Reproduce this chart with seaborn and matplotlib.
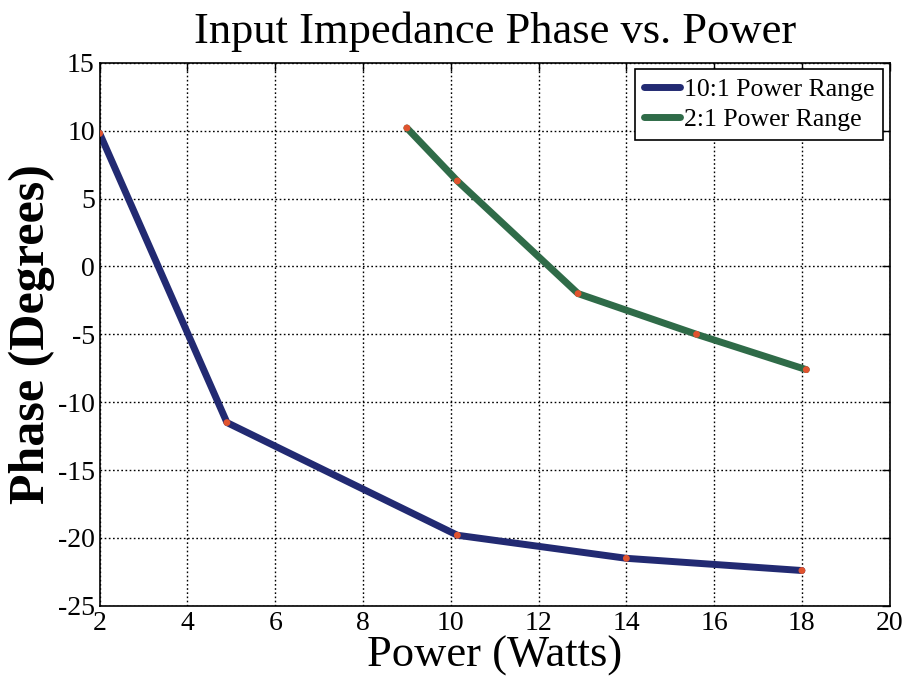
import matplotlib
matplotlib.use("Agg")
import matplotlib.pyplot as plt
import seaborn as sns
import pandas as pd
from matplotlib.lines import Line2D

# Data
power_10to1 = [2.0, 4.9, 10.15, 14.0, 18.0]
phase_10to1 = [9.8, -11.5, -19.8, -21.5, -22.4]
power_2to1 = [9.0, 10.15, 12.9, 15.6, 18.1]
phase_2to1 = [10.2, 6.3, -2.0, -5.0, -7.6]
series_names = ["10:1 Power Range", "2:1 Power Range"]
x_ticks = [2, 4, 6, 8, 10, 12, 14, 16, 18, 20]
y_ticks = [-25, -20, -15, -10, -5, 0, 5, 10, 15]

df = pd.DataFrame({
    "Power": power_10to1 + power_2to1,
    "Phase": phase_10to1 + phase_2to1,
    "Series": [series_names[0]] * len(power_10to1) + [series_names[1]] * len(power_2to1),
})

sns.set_style("white")
plt.rcParams["font.family"] = ["Liberation Serif", "DejaVu Serif"]
plt.rcParams["axes.unicode_minus"] = False
plt.rcParams["text.color"] = "black"
plt.rcParams["axes.labelcolor"] = "black"
plt.rcParams["xtick.color"] = "black"
plt.rcParams["ytick.color"] = "black"

colors = {series_names[0]: "#222a72", series_names[1]: "#2f6b48"}

fig = plt.figure(figsize=(9.06, 6.83), dpi=100)
ax = fig.add_axes([0.110, 0.113, 0.872, 0.795])

sns.lineplot(data=df, x="Power", y="Phase", hue="Series", palette=colors,
             linewidth=5, sort=False, ax=ax, legend=False)
sns.scatterplot(data=df, x="Power", y="Phase", color="#e0532e", s=24,
                edgecolor="none", ax=ax, legend=False, zorder=5)

ax.set_xlim(2, 20)
ax.set_ylim(-25, 15)
ax.set_xticks(x_ticks)
ax.set_yticks(y_ticks)
ax.tick_params(direction="in", labelsize=20, length=6, top=True, right=True,
               color="black", width=1)
ax.grid(True, linestyle=(0, (1.2, 1.8)), color="black", linewidth=1)
for sp in ax.spines.values():
    sp.set_visible(True)
    sp.set_color("black")
    sp.set_linewidth(1.2)

ax.set_title("Input Impedance Phase vs. Power", fontsize=32, pad=14, color="black")
ax.set_xlabel("Power (Watts)", fontsize=32, labelpad=0)
ax.set_ylabel("Phase (Degrees)", fontsize=36, fontweight="bold", labelpad=2)

handles = [Line2D([0], [0], color=colors[n], linewidth=5) for n in series_names]
leg = ax.legend(handles, series_names, loc="upper right", fontsize=18.5,
                frameon=True, fancybox=False, edgecolor="black",
                handlelength=1.4, handletextpad=0.15, borderaxespad=0.25,
                borderpad=0.35, labelspacing=0.25)
leg.get_frame().set_linewidth(1.2)
leg.get_frame().set_alpha(1)

fig.savefig("out.png", dpi=100)
